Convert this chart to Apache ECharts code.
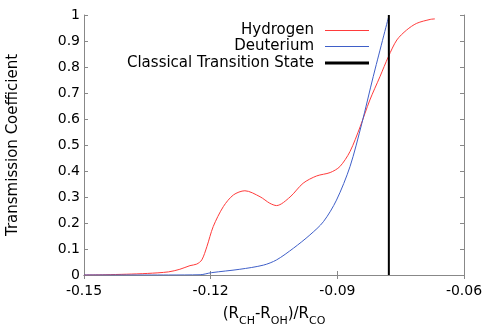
<!DOCTYPE html>
<html>
<head>
<meta charset="utf-8">
<script src="https://cdn.jsdelivr.net/npm/echarts@6/dist/echarts.min.js"></script>
<style>
  html, body { margin: 0; padding: 0; background: #fff; }
  #chart { width: 484px; height: 327px; }
</style>
</head>
<body>
<div id="chart"></div>
<script>
// values
const hydrogenX = [-0.15, -0.145, -0.14, -0.135, -0.13, -0.1273, -0.1249, -0.1233, -0.1221, -0.1209, -0.1194, -0.117, -0.1146, -0.1119, -0.1083, -0.106, -0.1044, -0.1012, -0.0981, -0.0949, -0.0917, -0.0894, -0.087, -0.0846, -0.0823, -0.0799, -0.0779, -0.0759, -0.0736, -0.0712, -0.068, -0.0669]
const hydrogenY = [0, 0.001, 0.003, 0.006, 0.012, 0.022, 0.036, 0.042, 0.058, 0.109, 0.186, 0.263, 0.308, 0.324, 0.301, 0.276, 0.267, 0.3, 0.353, 0.381, 0.394, 0.417, 0.475, 0.57, 0.673, 0.763, 0.84, 0.904, 0.942, 0.968, 0.983, 0.985]
const deuteriumX = [-0.15, -0.13, -0.1225, -0.1198, -0.1131, -0.1075, -0.1044, -0.1004, -0.0965, -0.0933, -0.0902, -0.087, -0.0842, -0.0815, -0.0779]
const deuteriumY = [0, 0, 0.001, 0.009, 0.022, 0.038, 0.058, 0.103, 0.154, 0.205, 0.288, 0.417, 0.583, 0.763, 0.99]
const transitionX = [-0.0778, -0.0778]
const transitionY = [0, 1]
const seriesNames = ['Hydrogen', 'Deuterium', 'Classical Transition State']

const font = 'DejaVu Sans'
const frameColor = '#888'

const zip = (xs, ys) => xs.map((x, i) => [x, ys[i]])

const chart = echarts.init(document.getElementById('chart'))

// one legend per row so the line samples line up on the right
const legendFor = (name, top, thick) => ({
  data: [name],
  right: 115,
  top: top,
  orient: 'vertical',
  align: 'right',
  padding: 0,
  icon: 'rect',
  itemWidth: 44,
  itemHeight: thick,
  selectedMode: false,
  textStyle: { fontFamily: font, fontSize: 15, color: '#000', padding: [0, 6, 0, 0] }
})

const axisCommon = {
  axisLine: { lineStyle: { color: frameColor, width: 1 } },
  axisTick: { inside: true, length: 4, lineStyle: { color: frameColor } },
  splitLine: { show: false }
}

chart.setOption({
  animation: false,
  grid: { left: 84, right: 20, top: 15, bottom: 52, outerBoundsMode: 'none' },
  legend: [
    legendFor(seriesNames[0], 23, 1),
    legendFor(seriesNames[1], 39, 1),
    legendFor(seriesNames[2], 55.5, 3)
  ],
  xAxis: [
    {
      ...axisCommon,
      type: 'value',
      min: -0.15,
      max: -0.06,
      interval: 0.03,
      axisLabel: { fontFamily: font, fontSize: 14, color: '#000', margin: 9,
        formatter: v => v.toFixed(2) },
      name: '{n|(R}{s|CH}{n|-R}{s|OH}{n|)/R}{s|CO}',
      nameLocation: 'middle',
      nameGap: 32,
      nameTextStyle: {
        rich: {
          n: { fontFamily: font, fontSize: 15, color: '#000', verticalAlign: 'bottom', padding: [0, 0, 5, 0] },
          s: { fontFamily: font, fontSize: 11, color: '#000', verticalAlign: 'bottom' }
        }
      }
    },
    {
      ...axisCommon,
      type: 'value',
      position: 'top',
      min: -0.15,
      max: -0.06,
      interval: 0.03,
      axisLabel: { show: false }
    }
  ],
  yAxis: [
    {
      ...axisCommon,
      type: 'value',
      min: 0,
      max: 1,
      interval: 0.1,
      axisLabel: { fontFamily: font, fontSize: 14, color: '#000', margin: 4,
        formatter: v => String(Math.round(v * 10) / 10) },
      name: 'Transmission Coefficient',
      nameLocation: 'middle',
      nameGap: 63,
      nameTextStyle: { fontFamily: font, fontSize: 15, color: '#000' }
    },
    {
      ...axisCommon,
      type: 'value',
      position: 'right',
      min: 0,
      max: 1,
      interval: 0.1,
      axisLabel: { show: false }
    }
  ],
  series: [
    {
      name: seriesNames[0],
      type: 'line',
      data: zip(hydrogenX, hydrogenY),
      smooth: 0.3,
      symbol: 'none',
      lineStyle: { color: '#ff3b3b', width: 1 },
      itemStyle: { color: '#ff3b3b' }
    },
    {
      name: seriesNames[1],
      type: 'line',
      data: zip(deuteriumX, deuteriumY),
      smooth: 0.3,
      symbol: 'none',
      lineStyle: { color: '#3f5fc8', width: 1 },
      itemStyle: { color: '#3f5fc8' }
    },
    {
      name: seriesNames[2],
      type: 'line',
      data: zip(transitionX, transitionY),
      symbol: 'none',
      lineStyle: { color: '#000', width: 2 },
      itemStyle: { color: '#000' }
    }
  ]
})
</script>
</body>
</html>
